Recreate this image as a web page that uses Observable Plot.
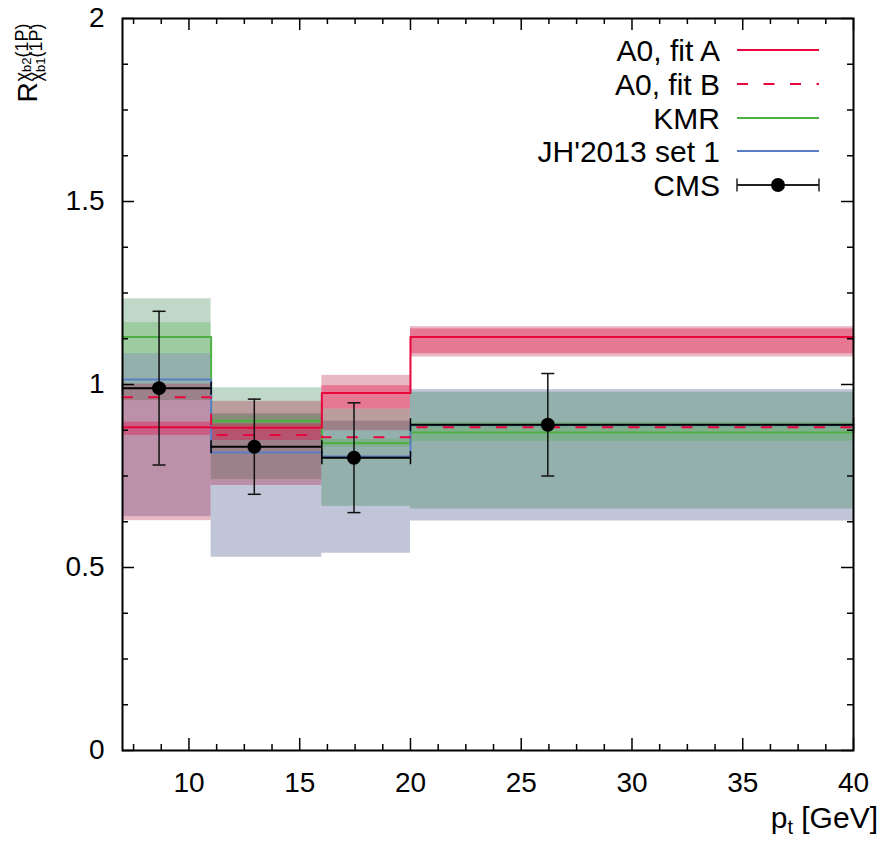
<!DOCTYPE html>
<html>
<head>
<meta charset="utf-8">
<script src="https://cdn.jsdelivr.net/npm/d3@7"></script>
<script src="https://cdn.jsdelivr.net/npm/@observablehq/plot@0.6"></script>
<style>
  html, body { margin: 0; padding: 0; background: white; }
</style>
</head>
<body>
<div id="chart"></div>
<script>
// ---- data ----
const binEdges = [7, 11, 16, 20, 40];

// central values per bin
const fitA = [0.883, 0.882, 0.977, 1.130];
const fitB = [0.965, 0.862, 0.856, 0.883];
const kmr  = [1.130, 0.900, 0.840, 0.869];
const jh   = [1.014, 0.814, 0.803, 0.889];

// uncertainty bands per bin
const fitAOuterLo = [0.628, 0.724, 0.874, 1.075];
const fitAOuterHi = [1.001, 0.954, 1.025, 1.158];
const fitAInnerLo = [0.861, 0.847, 0.933, 1.084];
const fitAInnerHi = [0.897, 0.892, 0.997, 1.152];
const kmrOuterLo  = [0.956, 0.740, 0.667, 0.660];
const kmrOuterHi  = [1.234, 0.991, 0.933, 0.979];
const kmrInnerLo  = [1.083, 0.885, 0.829, 0.845];
const kmrInnerHi  = [1.169, 0.915, 0.850, 0.897];
const jhLo        = [0.639, 0.528, 0.539, 0.627];
const jhHi        = [1.084, 0.920, 0.900, 0.986];

// CMS measurement
const cmsX  = [8.65, 12.95, 17.45, 26.2];
const cmsY  = [0.99, 0.83, 0.80, 0.89];
const cmsLo = [0.78, 0.70, 0.65, 0.75];
const cmsHi = [1.20, 0.96, 0.95, 1.03];

// axis ticks
const xMajor = [10, 15, 20, 25, 30, 35, 40];
const yMajor = [0, 0.5, 1, 1.5, 2];
const legendLabels = ["A0, fit A", "A0, fit B", "KMR", "JH'2013 set 1", "CMS"];

// ---- styles ----
const cRed = "#e8063c", cGreen = "#4eb043", cBlue = "#5a7ec6";
const FONT = "'Liberation Sans', Arial, sans-serif";

// ---- derived tables ----
const bands = (lo, hi) => lo.map((v, i) => ({x1: binEdges[i], x2: binEdges[i + 1], y1: v, y2: hi[i]}));
const steps = vals => binEdges.map((x, i) => ({x, y: vals[Math.min(i, vals.length - 1)]}));
const cms = cmsX.map((x, i) => ({x, y: cmsY[i], lo: cmsLo[i], hi: cmsHi[i], x1: binEdges[i], x2: binEdges[i + 1]}));

const xMinor = d3.range(7.5, 40, 1.25).filter(v => Math.abs(v % 5) > 1e-9);
const yMinor = d3.range(0.125, 2, 0.125).filter(v => Math.abs((v * 2) % 1) > 1e-9);
// tick lengths: x-axis ticks measured in y units, y-axis ticks in x units
const xTicks = [...xMajor.map(v => ({v, L: 0.0328})), ...xMinor.map(v => ({v, L: 0.0164}))];
const yTicks = [...yMajor.map(v => ({v, L: 0.542})), ...yMinor.map(v => ({v, L: 0.271}))];

const hline = {draw(ctx, size) { const r = Math.sqrt(size / Math.PI); ctx.moveTo(-r, 0); ctx.lineTo(r, 0); }};
const vline = {draw(ctx, size) { const r = Math.sqrt(size / Math.PI); ctx.moveTo(0, -r); ctx.lineTo(0, r); }};

const plot = Plot.plot({
  width: 896,
  height: 857,
  marginLeft: 122,
  marginRight: 43,
  marginTop: 18,
  marginBottom: 107,
  style: {fontFamily: FONT, fontSize: "28px", background: "white", color: "black", overflow: "visible"},
  x: {domain: [7, 40]},
  y: {domain: [0, 2]},
  marks: [
    // bands
    Plot.rect(bands(jhLo, jhHi), {x1: "x1", x2: "x2", y1: "y1", y2: "y2", fill: "#2d417d", fillOpacity: 0.3}),
    Plot.rect(bands(kmrOuterLo, kmrOuterHi), {x1: "x1", x2: "x2", y1: "y1", y2: "y2", fill: "#2d7d48", fillOpacity: 0.3}),
    Plot.rect(bands(fitAOuterLo, fitAOuterHi), {x1: "x1", x2: "x2", y1: "y1", y2: "y2", fill: "#b4143c", fillOpacity: 0.3}),
    Plot.rect(bands(kmrInnerLo, kmrInnerHi), {x1: "x1", x2: "x2", y1: "y1", y2: "y2", fill: "#4daf4a", fillOpacity: 0.3}),
    Plot.rect(bands(fitAInnerLo, fitAInnerHi), {x1: "x1", x2: "x2", y1: "y1", y2: "y2", fill: "#e6003c", fillOpacity: 0.35}),
    // central step lines
    Plot.line(steps(kmr), {x: "x", y: "y", curve: "step-after", stroke: cGreen, strokeWidth: 2}),
    Plot.line(steps(jh), {x: "x", y: "y", curve: "step-after", stroke: cBlue, strokeWidth: 2}),
    Plot.line(steps(fitA), {x: "x", y: "y", curve: "step-after", stroke: cRed, strokeWidth: 2}),
    Plot.line(steps(fitB), {x: "x", y: "y", curve: "step-after", stroke: cRed, strokeWidth: 2, strokeDasharray: "9.5,17"}),
    // CMS
    Plot.ruleY(cms, {y: "y", x1: "x1", x2: "x2", stroke: "black", strokeWidth: 2}),
    Plot.dot(cms, {x: "x1", y: "y", symbol: vline, r: 6.5, stroke: "black", strokeWidth: 1.5}),
    Plot.dot(cms, {x: "x2", y: "y", symbol: vline, r: 6.5, stroke: "black", strokeWidth: 1.5}),
    Plot.ruleX(cms, {x: "x", y1: "lo", y2: "hi", stroke: "#111", strokeWidth: 1.5}),
    Plot.dot(cms, {x: "x", y: "lo", symbol: hline, r: 6.5, stroke: "#111", strokeWidth: 1.5}),
    Plot.dot(cms, {x: "x", y: "hi", symbol: hline, r: 6.5, stroke: "#111", strokeWidth: 1.5}),
    Plot.dot(cms, {x: "x", y: "y", r: 7, fill: "black"}),
    // inward ticks on all four sides
    Plot.ruleX(xTicks, {x: "v", y1: 0, y2: "L", stroke: "black", strokeWidth: 1.5}),
    Plot.ruleX(xTicks, {x: "v", y1: 2, y2: d => 2 - d.L, stroke: "black", strokeWidth: 1.5}),
    Plot.ruleY(yTicks, {y: "v", x1: 7, x2: d => 7 + d.L, stroke: "black", strokeWidth: 1.5}),
    Plot.ruleY(yTicks, {y: "v", x1: 40, x2: d => 40 - d.L, stroke: "black", strokeWidth: 1.5}),
    Plot.frame({stroke: "black", strokeWidth: 2}),
    // tick labels
    Plot.axisX({ticks: xMajor, tickSize: 0, tickPadding: 22, tickFormat: d => String(d), fontSize: 28, label: null}),
    Plot.axisY({ticks: yMajor, tickSize: 0, tickPadding: 18, tickFormat: d => String(d), fontSize: 28, label: null}),
    // rotated y-axis title (R with stacked chi labels)
    Plot.text(["R"], {text: d => d, frameAnchor: "top-left", dx: -94, dy: 84, rotate: -90,
      textAnchor: "start", lineAnchor: "middle", fontSize: 28, fill: "black"}),
    Plot.text(["χb2(1P)"], {text: d => d, frameAnchor: "top-left", dx: -100.5, dy: 63, rotate: -90,
      textAnchor: "start", lineAnchor: "middle", fontSize: 18, fill: "black"}),
    Plot.text(["χb1(1P)"], {text: d => d, frameAnchor: "top-left", dx: -86, dy: 63, rotate: -90,
      textAnchor: "start", lineAnchor: "middle", fontSize: 18, fill: "black"})
  ]
});

document.getElementById("chart").appendChild(plot);

// ---- annotations ----
const svg = d3.select(plot);
svg.selectAll("text").attr("fill", "black");

// make "b2"/"b1" smaller subscripts of chi
svg.selectAll("text").each(function() {
  const t = this.textContent;
  if (t === "χb2(1P)" || t === "χb1(1P)") {
    const sel = d3.select(this);
    const idx = t.slice(1, 3);
    sel.text(null);
    sel.append("tspan").text("χ");
    sel.append("tspan").attr("font-size", 13).attr("dy", 3).text(idx);
    sel.append("tspan").attr("dy", -3).text("(1P)");
  }
});

// x label
const xl = svg.append("text").attr("x", 878).attr("y", 828).attr("text-anchor", "end")
  .attr("font-family", FONT).attr("font-size", 30).attr("fill", "black");
xl.append("tspan").text("p");
xl.append("tspan").attr("font-size", 20).attr("dy", 6).text("t");
xl.append("tspan").attr("dy", -6).text(" [GeV]");

// legend
const rowY = [50, 84, 118, 151, 185];
const lg = svg.append("g").attr("font-family", FONT).attr("font-size", 30);
legendLabels.forEach((lab, i) => {
  lg.append("text").attr("x", 720).attr("y", rowY[i]).attr("dy", "0.36em")
    .attr("text-anchor", "end").attr("fill", "black").text(lab);
});
const sx1 = 737, sx2 = 819;
const sample = (i, color, dash) => lg.append("line").attr("x1", sx1).attr("x2", sx2)
  .attr("y1", rowY[i]).attr("y2", rowY[i]).attr("stroke", color).attr("stroke-width", 2)
  .attr("stroke-dasharray", dash || null);
sample(0, cRed); sample(1, cRed, "11,15.5"); sample(2, cGreen); sample(3, cBlue);
sample(4, "#222");
[sx1, sx2].forEach(x => lg.append("line").attr("x1", x).attr("x2", x)
  .attr("y1", rowY[4] - 6.5).attr("y2", rowY[4] + 6.5).attr("stroke", "#222").attr("stroke-width", 1.5));
lg.append("circle").attr("cx", (sx1 + sx2) / 2).attr("cy", rowY[4]).attr("r", 7).attr("fill", "black");
</script>
</body>
</html>
